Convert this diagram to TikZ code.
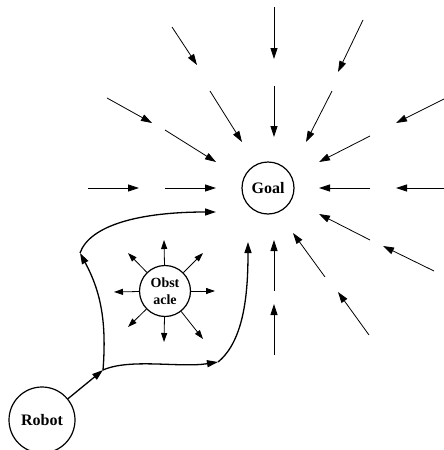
\documentclass[tikz,border=0pt]{standalone}
\usepackage{fontspec}
\setmainfont{Liberation Serif}
\usetikzlibrary{arrows.meta}
\begin{document}
\begin{tikzpicture}[x=1pt,y=-1pt,
  field/.style={line width=0.8pt,-{Triangle[length=11pt,width=7pt]}},
  ray/.style={line width=0.8pt,-{Triangle[length=9pt,width=6pt]}},
  route/.style={line width=1.3pt,-{Triangle[length=11pt,width=7pt]}},
  body/.style={circle,draw,line width=1.2pt,inner sep=0pt,align=center}]
\useasboundingbox (0,0) rectangle (444,450);
% bodies
\node[body,minimum size=52pt,font=\bfseries\fontsize{16}{16}\selectfont] (goal) at (268,188) {Goal};
\node[body,minimum size=66pt,font=\bfseries\fontsize{16}{16}\selectfont] (robot) at (42,420) {Robot};
\node[body,minimum size=51pt,font=\bfseries\fontsize{14}{17}\selectfont] (obs) at (165,291) {Obst\\acle};
% attractive field
\foreach \n/\x/\y/\u/\v in {
  a/274/7/274/59, b/274/86/274/137,
  c/172/27/197/65, d/210/91/242/142,
  e/363/20/338/72, f/332/91/306/142,
  g/107/98/152/123, h/165/130/216/162,
  i/444/99/396/123, j/370/136/319/162,
  k/88/188/139/188, l/165/188/216/188,
  m/370/188/319/188, n/444/188/396/188,
  o/370/240/319/214, p/434/271/383/246,
  q/325/277/293/233, r/369/335/338/292,
  s/274/291/274/240, t/274/355/274/304}
{
  \coordinate (\n s) at (\x,\y);
  \coordinate (\n e) at (\u,\v);
  \draw[field] (\n s) -- (\n e);
}
% repulsive field of the obstacle
\foreach \n/\x/\y in {u/164/240, r/215/291, l/114/292, d/164/342,
  ul/128/253, ur/203/253, dl/128/327, dr/203/339}
{
  \coordinate (o\n) at (\x,\y);
  \draw[ray] (obs) -- (o\n);
}
% robot paths
\coordinate (br) at (103,370);
\coordinate (la) at (80,253);
\coordinate (lb) at (216,212);
\coordinate (ra) at (218,362);
\coordinate (rb) at (248,242);
\draw[route] (robot) -- (br);
\draw[route] (br) .. controls (107,320) and (100,290) .. (la);
\draw[route] (la) .. controls (90,225) and (140,212) .. (lb);
\draw[route] (br) .. controls (130,358) and (180,368) .. (ra);
\draw[route] (ra) .. controls (245,340) and (248,290) .. (rb);
\end{tikzpicture}
\end{document}
